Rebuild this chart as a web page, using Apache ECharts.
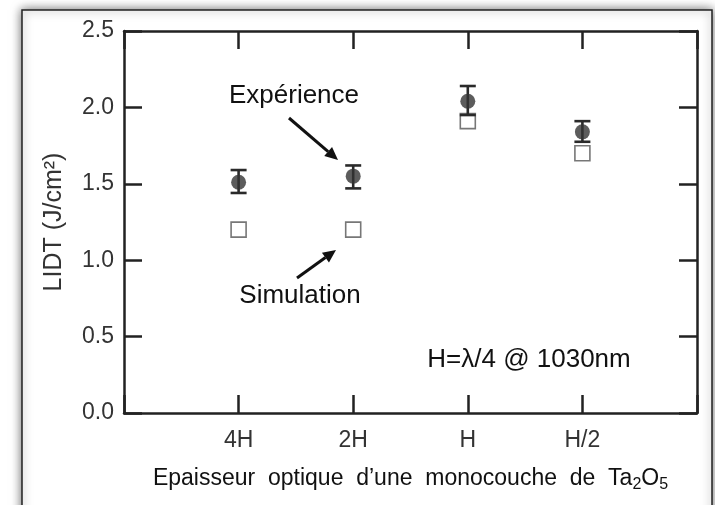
<!DOCTYPE html>
<html>
<head>
<meta charset="utf-8">
<script src="https://cdn.jsdelivr.net/npm/echarts@6/dist/echarts.min.js"></script>
<style>
  html, body { margin: 0; padding: 0; background: #fff; }
  #chart { width: 715px; height: 505px; }
</style>
</head>
<body>
<div id="chart"></div>
<script>
// Categories (empty slots at both ends give the half-gap seen in the figure)
const categories = ['', '4H', '2H', 'H', 'H/2', ''];
const points = ['4H', '2H', 'H', 'H/2'];

// Experimental LIDT with error bars
const expValues = [1.51, 1.55, 2.04, 1.84];
const expLow = [1.44, 1.47, 1.95, 1.775];
const expHigh = [1.59, 1.62, 2.14, 1.91];

// Simulated LIDT
const simValues = [1.20, 1.20, 1.91, 1.70];

const yTicks = [0, 0.5, 1.0, 1.5, 2.0, 2.5];

const FONT = '"Liberation Sans", Arial, sans-serif';
const INK = '#222';

const chart = echarts.init(document.getElementById('chart'));

// arrow helper: line plus filled head at (x2, y2)
function arrow(x1, y1, x2, y2) {
    const ang = Math.atan2(y2 - y1, x2 - x1);
    const len = 13, half = 6;
    const bx = x2 - len * Math.cos(ang), by = y2 - len * Math.sin(ang);
    const px = -Math.sin(ang) * half, py = Math.cos(ang) * half;
    return {
        type: 'group', z: 100,
        children: [
            { type: 'line', shape: { x1: x1, y1: y1, x2: bx, y2: by },
              style: { stroke: '#111', lineWidth: 3 } },
            { type: 'polygon', shape: { points: [[x2, y2], [bx + px, by + py], [bx - px, by - py]] },
              style: { fill: '#111' } }
        ]
    };
}

const axisCommon = {
    axisLine: { show: true, onZero: false, lineStyle: { color: INK, width: 2.5 } },
    axisTick: { show: true, inside: true, length: 18, lineStyle: { color: INK, width: 2.5 } },
    splitLine: { show: false }
};

const option = {
    animation: false,
    grid: { left: 124, top: 31, width: 573, height: 382 },
    xAxis: [
        Object.assign({
            type: 'category', data: categories, boundaryGap: false, position: 'bottom',
            axisLabel: { margin: 16, fontSize: 23, color: '#333', fontFamily: FONT },
            name: 'Epaisseur  optique  d’une  monocouche  de  Ta{s|2}O{s|5}',
            nameLocation: 'middle', nameGap: 52,
            nameTextStyle: {
                fontSize: 23, color: '#111', fontFamily: FONT,
                rich: { s: { fontSize: 16, verticalAlign: 'bottom', padding: [12, 0, 0, 0], fontFamily: FONT, color: '#111' } }
            }
        }, axisCommon),
        Object.assign({
            type: 'category', data: categories, boundaryGap: false, position: 'top',
            axisLabel: { show: false }
        }, axisCommon)
    ],
    yAxis: [
        Object.assign({
            type: 'value', min: yTicks[0], max: yTicks[yTicks.length - 1], interval: 0.5, position: 'left',
            axisLabel: { margin: 10, fontSize: 23, color: '#333', fontFamily: FONT,
                         formatter: v => v.toFixed(1) },
            name: 'LIDT (J/cm²)', nameLocation: 'middle', nameGap: 57,
            nameTextStyle: { fontSize: 25, color: '#333', fontFamily: FONT }
        }, axisCommon),
        Object.assign({
            type: 'value', min: yTicks[0], max: yTicks[yTicks.length - 1], interval: 0.5, position: 'right',
            axisLabel: { show: false }
        }, axisCommon)
    ],
    series: [
        {
            name: 'Simulation', type: 'scatter', symbol: 'rect', symbolSize: 15,
            itemStyle: { color: '#fff', borderColor: '#555', borderWidth: 1.6 },
            data: points.map((c, i) => [c, simValues[i]]),
            z: 2
        },
        {
            name: 'errors', type: 'custom',
            data: points.map((c, i) => [c, expLow[i], expHigh[i]]),
            renderItem: function (params, api) {
                const lo = api.coord([api.value(0), api.value(1)]);
                const hi = api.coord([api.value(0), api.value(2)]);
                const w = 8;
                const st = { stroke: '#2a2a2a', lineWidth: 2.6 };
                return {
                    type: 'group',
                    children: [
                        { type: 'line', shape: { x1: lo[0], y1: lo[1], x2: hi[0], y2: hi[1] }, style: st },
                        { type: 'line', shape: { x1: lo[0] - w, y1: lo[1], x2: lo[0] + w, y2: lo[1] }, style: st },
                        { type: 'line', shape: { x1: hi[0] - w, y1: hi[1], x2: hi[0] + w, y2: hi[1] }, style: st }
                    ]
                };
            },
            z: 3
        },
        {
            name: 'Expérience', type: 'scatter', symbol: 'circle', symbolSize: 15,
            itemStyle: { color: '#333' },
            data: points.map((c, i) => [c, expValues[i]]),
            z: 4
        }
    ],
    graphic: [
        { type: 'rect', z: -10, silent: true,
          shape: { x: 22, y: 10, width: 690, height: 530 },
          style: { fill: '#fff', stroke: '#222', lineWidth: 1.5,
                   shadowBlur: 10, shadowColor: 'rgba(0,0,0,0.55)' } },
        { type: 'text', z: 100, x: 294, y: 96,
          style: { text: 'Expérience', fontSize: 26, fontFamily: FONT, fill: '#111',
                   align: 'center', verticalAlign: 'middle' } },
        { type: 'text', z: 100, x: 300, y: 296,
          style: { text: 'Simulation', fontSize: 26, fontFamily: FONT, fill: '#111',
                   align: 'center', verticalAlign: 'middle' } },
        { type: 'text', z: 100, x: 529, y: 360,
          style: { text: 'H=λ/4 @ 1030nm', fontSize: 26, fontFamily: FONT, fill: '#111',
                   align: 'center', verticalAlign: 'middle' } },
        arrow(289, 118, 338, 160),
        arrow(297, 278, 336, 250)
    ]
};

chart.setOption(option);
</script>
</body>
</html>
